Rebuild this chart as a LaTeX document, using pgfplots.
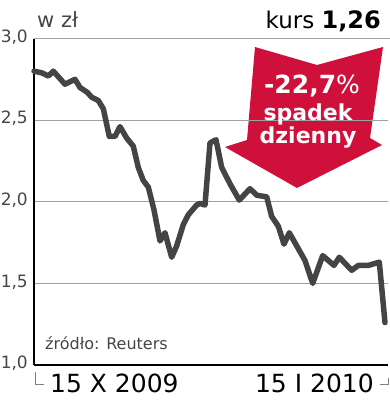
\documentclass[border=0pt]{standalone}
\usepackage{fontspec}
\setmainfont{DejaVu Sans}
\usepackage{pgfplots}
\pgfplotsset{compat=1.18}
\definecolor{arrowred}{RGB}{206,16,58}
\definecolor{linegray}{RGB}{68,68,68}
\definecolor{gridgray}{RGB}{160,160,160}
\definecolor{labgray}{RGB}{70,70,70}
\begin{document}
\begin{tikzpicture}[x=1pt,y=1pt]
\path[use as bounding box] (0,0) rectangle (390,400);
% arrow (decoration)
\fill[arrowred] (255,353) -- (317,335) -- (383,353) -- (370,262) -- (382,255) -- (297,212) -- (225,253) -- (247,260) -- cycle;
\begin{axis}[
  at={(34pt,35pt)}, anchor=origin,
  scale only axis, width=354pt, height=326.5pt,
  xmin=34, xmax=388, ymin=1, ymax=3,
  clip=false,
  axis x line*=bottom, axis y line*=left,
  x axis line style={black, line width=2pt, -},
  y axis line style={black, line width=1.3pt, -},
  xtick=\empty,
  ytick={1,1.5,2,2.5,3},
  major tick length=0pt,
  ymajorgrids, grid style={gridgray, line width=0.9pt},
  /pgf/number format/.cd, fixed, fixed zerofill, precision=1, use comma, assume math mode=true,
  /pgfplots/.cd,
  yticklabel style={anchor=east, inner sep=0pt, xshift=-6pt, yshift=1.5pt, font=\fontsize{17}{17}\selectfont, text=labgray},
]
\addplot[linegray, line width=5.5pt, line join=round, line cap=round] coordinates {
(34,2.80) (41.7,2.79) (48.3,2.77) (53.3,2.80) (65,2.72) (75,2.75) (80,2.70)
(87.3,2.67) (91.7,2.64) (98.3,2.62) (103.3,2.57) (109.3,2.40) (115,2.40)
(120,2.46) (126.7,2.39) (133.3,2.34) (138.3,2.21) (143.3,2.13) (148.3,2.09)
(154,1.95) (160,1.76) (165,1.81) (171.7,1.66) (176.7,1.73) (183.3,1.86)
(188.3,1.92) (196.7,1.98) (200,1.99) (205,1.98) (210,2.36) (216,2.38)
(221.7,2.21) (230,2.11) (239.3,2.01) (250,2.08) (256.7,2.04) (266.7,2.03)
(271.7,1.91) (278.3,1.85) (284,1.74) (289.3,1.81) (296.7,1.73) (305,1.64)
(312.7,1.50) (322.7,1.67) (334,1.61) (339.3,1.66) (351.7,1.58) (358.3,1.61)
(368.3,1.61) (379.3,1.63) (385,1.26)
};
\end{axis}
% top gray line extension
\draw[gridgray, line width=0.9pt] (388,361.5) -- (390,361.5);
% titles
\node[anchor=base west, inner sep=0pt, text=labgray] at (37,372) {\fontsize{21}{21}\selectfont w zł};
\node[anchor=base east, inner sep=0pt] at (381,371) {\fontsize{23}{23}\selectfont kurs {\bfseries\fontsize{24}{24}\selectfont 1,26}};
\node[anchor=base west, inner sep=0pt, text=labgray] at (45,50) {\fontsize{16}{16}\selectfont źródło: Reuters};
% arrow text
\node[anchor=base, inner sep=0pt, text=white] at (312,306) {\fontsize{25}{25}\selectfont\bfseries -22,7{\mdseries\%}};
\node[anchor=base, inner sep=0pt, text=white] at (308,279) {\fontsize{22}{22}\selectfont\bfseries spadek};
\node[anchor=base, inner sep=0pt, text=white] at (308,256) {\fontsize{22}{22}\selectfont\bfseries dzienny};
% bottom date labels
\draw[gridgray!80!black, line width=0.8pt] (35.5,28) -- (35.5,16) -- (44,16);
\draw[gridgray!80!black, line width=0.8pt] (380,16) -- (388,16) -- (388,22);
\node[anchor=base west, inner sep=0pt] at (50,7) {\fontsize{25}{25}\selectfont 15 X 2009};
\node[anchor=base east, inner sep=0pt] at (374,7) {\fontsize{25}{25}\selectfont 15 I 2010};
\end{tikzpicture}
\end{document}
